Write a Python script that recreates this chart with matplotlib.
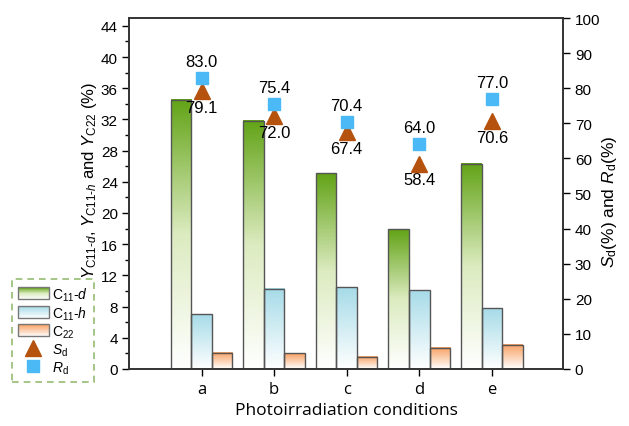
import numpy as np
import matplotlib
matplotlib.use("Agg")
import matplotlib.pyplot as plt
from matplotlib.colors import LinearSegmentedColormap
from matplotlib.patches import Rectangle
from matplotlib.legend_handler import HandlerBase
from matplotlib.lines import Line2D

categories = ["a", "b", "c", "d", "e"]
y_c11d = [34.5, 31.8, 25.1, 17.9, 26.3]
y_c11h = [7.0, 10.3, 10.5, 10.1, 7.8]
y_c22 = [2.1, 2.0, 1.6, 2.7, 3.1]
s_d = [79.1, 72.0, 67.4, 58.4, 70.6]
r_d = [83.0, 75.4, 70.4, 64.0, 77.0]

plt.rcParams['font.family'] = ['Liberation Sans', 'DejaVu Sans']
plt.rcParams['mathtext.fontset'] = 'custom'
plt.rcParams['mathtext.rm'] = 'Liberation Sans'
plt.rcParams['mathtext.it'] = 'Liberation Sans:italic'
plt.rcParams['mathtext.bf'] = 'Liberation Sans:bold'

green_top = "#62a316"
blue_top = "#a6dbe8"
orange_top = "#f7a062"
cmaps = {
    "g": LinearSegmentedColormap.from_list("g", ["#ffffff", "#dcebc0", green_top]),
    "b": LinearSegmentedColormap.from_list("b", ["#ffffff", blue_top]),
    "o": LinearSegmentedColormap.from_list("o", ["#ffffff", orange_top]),
}

fig = plt.figure(figsize=(6.29, 4.27), dpi=100)
ax = fig.add_axes([0.205, 0.1335, 0.69, 0.822])

x = np.arange(len(categories))
w = 0.283
grad = np.linspace(1, 0, 256).reshape(-1, 1)

def grad_bars(xs, vals, key):
    for xi, v in zip(xs, vals):
        ax.imshow(grad, cmap=cmaps[key], extent=(xi - w / 2, xi + w / 2, 0, v),
                  aspect='auto', zorder=2, interpolation='bilinear', vmin=0, vmax=1)
    ax.bar(xs, vals, width=w, facecolor='none', edgecolor='#555555', linewidth=1.0, zorder=3)

grad_bars(x - w, y_c11d, "g")
grad_bars(x, y_c11h, "b")
grad_bars(x + w, y_c22, "o")

ax.set_xlim(-1.0, 4.98)
ax.set_ylim(0, 45)
ax.set_yticks(np.arange(0, 45, 4))
ax.set_yticks(np.arange(0, 45, 2), minor=True)
ax.set_xticks(x)
ax.set_xticklabels(categories, fontsize=12, family=['Open Sans', 'DejaVu Sans'])
ax.tick_params(axis='y', labelsize=11, direction='out', length=5, width=1, pad=3)
ax.tick_params(axis='y', which='minor', length=3, width=1)
ax.tick_params(axis='x', direction='out', length=5, width=1, pad=4)
for s in ax.spines.values():
    s.set_linewidth(1.2)
    s.set_color('#333333')
ax.set_xlabel("Photoirradiation conditions", fontsize=12.5, family=['Open Sans', 'DejaVu Sans'], labelpad=3)
ax.set_ylabel(r"$Y_{\mathrm{C11}\text{-}d}$, $Y_{\mathrm{C11}\text{-}h}$ and $Y_{\mathrm{C22}}$ (%)", fontsize=12)
ax.yaxis.set_label_coords(-0.068, 0.54)

ax2 = ax.twinx()
ax2.set_ylim(0, 100)
ax2.set_yticks(np.arange(0, 101, 10))
ax2.tick_params(axis='y', labelsize=11, direction='out', length=5, width=1)
for s in ax2.spines.values():
    s.set_linewidth(1.2)
    s.set_color('#333333')
ax2.set_ylabel(r"$S_\mathrm{d}$(%) and $R_\mathrm{d}$(%)", fontsize=12.5)
ax2.yaxis.set_label_coords(1.085, 0.48)

tri_c = "#b5520e"
sq_c = "#4bb9f5"
ax2.plot(x, s_d, linestyle='none', marker='^', markersize=12, color=tri_c, zorder=5)
ax2.plot(x, r_d, linestyle='none', marker='s', markersize=9, color=sq_c, zorder=5)
for xi, sv, rv in zip(x, s_d, r_d):
    ax2.annotate(f"{rv:.1f}", (xi, rv), xytext=(0, 6.5), textcoords='offset points',
                 ha='center', va='bottom', fontsize=12)
    ax2.annotate(f"{sv:.1f}", (xi, sv), xytext=(0, -6), textcoords='offset points',
                 ha='center', va='top', fontsize=12)


class GradHandler(HandlerBase):
    def __init__(self, key):
        super().__init__()
        self.key = key

    def create_artists(self, legend, orig_handle, xdescent, ydescent, width, height, fontsize, trans):
        arts = []
        n = 20
        cm = cmaps[self.key]
        for i in range(n):
            r = Rectangle((-xdescent, -ydescent + height * i / n), width, height / n + 0.3,
                          facecolor=cm((i + 0.5) / n), edgecolor='none', transform=trans)
            arts.append(r)
        edge = Rectangle((-xdescent, -ydescent), width, height, facecolor='none',
                         edgecolor='#777777', linewidth=1.0, transform=trans)
        arts.append(edge)
        return arts


class H1: pass
class H2: pass
class H3: pass
h1, h2, h3 = H1(), H2(), H3()
tri_h = Line2D([], [], linestyle='none', marker='^', markersize=11, color=tri_c)
sq_h = Line2D([], [], linestyle='none', marker='s', markersize=8, color=sq_c)
leg = fig.legend([h1, h2, h3, tri_h, sq_h],
                 [r"C$_{11}$-$d$", r"C$_{11}$-$h$", r"C$_{22}$", r"$S_\mathrm{d}$", r"$R_\mathrm{d}$"],
                 handler_map={H1: GradHandler("g"), H2: GradHandler("b"), H3: GradHandler("o")},
                 loc='lower left', bbox_to_anchor=(0.019, 0.103), frameon=True, fancybox=False,
                 fontsize=10, handlelength=2.2, handleheight=0.95, handletextpad=0.2,
                 labelspacing=0.12, borderpad=0.45, borderaxespad=0)
leg.get_frame().set_edgecolor('#7aaa50')
leg.get_frame().set_linestyle((0, (4, 3)))
leg.get_frame().set_linewidth(1.2)

fig.savefig("out.png", dpi=100)
